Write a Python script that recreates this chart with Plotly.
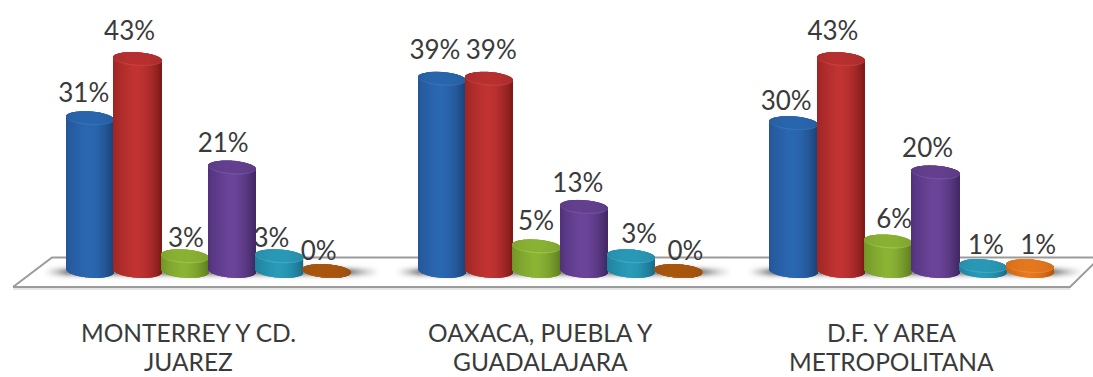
import numpy as np
import plotly.graph_objects as go

# Survey shares by region (percent), one list per response group
CATEGORY_LINES = [
    ["MONTERREY Y CD.", "JUAREZ"],
    ["OAXACA, PUEBLA Y", "GUADALAJARA"],
    ["D.F. Y AREA", "METROPOLITANA"],
]
SERIES_BLUE = [31, 39, 30]
SERIES_RED = [43, 39, 43]
SERIES_GREEN = [3, 5, 6]
SERIES_PURPLE = [21, 13, 20]
SERIES_TEAL = [3, 3, 1]
SERIES_ORANGE = [0, 0, 1]
ALL_SERIES = [SERIES_BLUE, SERIES_RED, SERIES_GREEN, SERIES_PURPLE, SERIES_TEAL, SERIES_ORANGE]

# Canvas scale: pixels per category and per percentage point
W, H, PLOT_H = 1093, 377, 300
PX_X = 351.7
PX_Y = 4.93
X0_PX = 208.5
Y0_PX = 271.0
BAR_W = 47.3 / PX_X
SLICES = 48
RY = 6.8 / PX_Y
TILT = 1.6 / PX_Y
X_RANGE = [-X0_PX / PX_X, (W - X0_PX) / PX_X]
Y_RANGE = [(Y0_PX - PLOT_H) / PX_Y, Y0_PX / PX_Y]


def px_x(p):
    return (p - X0_PX) / PX_X


def px_y(p):
    return (Y0_PX - p) / PX_Y


# Shading stops across a cylinder: dark edge, lit centre, dark edge
SHADES = [
    dict(edge_l="#245596", mid="#2b68b2", edge_r="#1b4478", cap="#2a66ae", rim="#3273bb"),
    dict(edge_l="#9c2523", mid="#c13433", edge_r="#7e1a18", cap="#b83030", rim="#c83e3c"),
    dict(edge_l="#6f9426", mid="#8cb435", edge_r="#5f7f20", cap="#8ab234", rim="#9ac244"),
    dict(edge_l="#4f3079", mid="#6c459a", edge_r="#412864", cap="#64408f", rim="#7450a4"),
    dict(edge_l="#1f7f9c", mid="#2a9bba", edge_r="#1a6d88", cap="#2a99b7", rim="#3aa9c5"),
    dict(edge_l="#c96416", mid="#e87a1f", edge_r="#b35510", cap="#e6781e", rim="#ee882e"),
]
ZERO_SHADE = dict(edge_l="#9c500e", mid="#a9570f", edge_r="#8f480c", cap="#a9570f", rim="#b05e14")

# Label offsets from each cylinder's top, in pixels
LABEL_DX = [[-6.5, -8, 1, -9, -8, -8], [-7, 2, -0.5, -6, 8, 7], [-7.5, -8, 6, -8, 3, 8]]
LABEL_DY = [[23, 26, 16, 21.5, 16, 18], [26, 26, 23, 21, 20, 18], [20, 26, 20, 22, 19, 19]]
CATEGORY_SHIFT = -20


def rgb(h):
    return np.array([int(h[i:i + 2], 16) for i in (1, 3, 5)], dtype=float)


def shade(t, s):
    # t runs from -1 (left edge) to 1 (right edge)
    l, m, r = rgb(s["edge_l"]), rgb(s["mid"]), rgb(s["edge_r"])
    if t < -0.1:
        c = l + (m - l) * min(1.0, (t + 1) / 0.9) ** 0.7
    else:
        c = m + (r - m) * ((t + 0.1) / 1.1) ** 2.0
    return "rgb(%d,%d,%d)" % tuple(c)


def mix(h, s_factor, t):
    c = rgb(h) * (1 - s_factor * abs(t) ** 2)
    return "rgb(%d,%d,%d)" % tuple(c)


def cylinder(fig, center, value, s):
    ts = (np.arange(SLICES) + 0.5) / SLICES * 2 - 1
    xs = center + ts * BAR_W / 2
    arc = np.sqrt(1 - ts ** 2)
    sw = BAR_W / SLICES * 1.25
    common = dict(x=xs, width=sw, xaxis="x2", yaxis="y2", hoverinfo="skip", showlegend=False,
                  marker_line_width=0)
    # Body, whose lower edge follows the front of the base ellipse
    low = -arc * RY - TILT * ts
    top = value - TILT * ts
    fig.add_trace(go.Bar(base=low, y=top - low, marker_color=[shade(t, s) for t in ts], **common))
    # Lighter rim round the lid
    fig.add_trace(go.Bar(base=top - arc * RY, y=2 * arc * RY,
                         marker_color=[mix(s["rim"], 0.12, t) for t in ts], **common))
    # Lid, a touch smaller and shifted up so the rim shows along the front
    inner = arc * RY * 0.88
    fig.add_trace(go.Bar(base=top - inner + 0.12, y=2 * inner,
                         marker_color=[mix(s["cap"], 0.08, t) for t in ts], **common))


fig = go.Figure()

# Soft floor shadow behind each group of cylinders
sx = np.arange(0, W + 3, 3.0)
sy = np.arange(260.0, 284.0, 1.0)
edges = [(X0_PX + g * PX_X - 3 * 47.3, X0_PX + g * PX_X + 3 * 47.3) for g in range(3)]
fade = np.zeros_like(sx)
for a, b in edges:
    fade = np.maximum(fade, np.clip(1 - (a - sx) / 24, 0, 1) * (sx < a) + (a <= sx) * (sx <= b)
                      + np.clip(1 - (sx - b) / 30, 0, 1) * (sx > b))
band = np.exp(-((sy - 271) / 4.2) ** 2)
fig.add_trace(go.Heatmap(x=px_x(sx), y=px_y(sy), z=np.outer(band, fade ** 1.4), zmin=0, zmax=1,
                         colorscale=[[0, "#ffffff"], [1, "#8c8c8c"]], zsmooth="best",
                         showscale=False, hoverinfo="skip"))

# Floor outline; the far right corner runs off the canvas
floor_x = [13, 52, 1100, 1070, 13]
floor_y = [287, 257.5, 257.5, 287, 287]
fig.add_trace(go.Scatter(x=[px_x(p) for p in floor_x], y=[px_y(p) for p in floor_y], mode="lines",
                         line=dict(color="#9b9b9b", width=2), hoverinfo="skip", showlegend=False))
fig.add_trace(go.Scatter(x=[px_x(13), px_x(1070)], y=[px_y(289), px_y(289)], mode="lines",
                         line=dict(color="#dedede", width=1.5), hoverinfo="skip", showlegend=False))

# Value labels sit in the lower layer, so a neighbouring cylinder can hide part of one
lab_x, lab_y, lab_t = [], [], []
for g in range(3):
    for i, series in enumerate(ALL_SERIES):
        center = g + (i - 2.5) * BAR_W
        lab_x.append(center + LABEL_DX[g][i] / PX_X)
        lab_y.append(series[g] + LABEL_DY[g][i] / PX_Y)
        lab_t.append(f"{series[g]}%")
fig.add_trace(go.Scatter(x=lab_x, y=lab_y, text=lab_t, mode="text", textposition="middle center",
                         textfont=dict(family="Lato", size=26, color="#3a3a3a"),
                         hoverinfo="skip", showlegend=False, cliponaxis=False))

# Cylinders on an overlaid pair of axes with the same scale
for g in range(3):
    for i, series in enumerate(ALL_SERIES):
        v = series[g]
        cylinder(fig, g + (i - 2.5) * BAR_W, v, ZERO_SHADE if v == 0 else SHADES[i])

annotations = []
for g, lines in enumerate(CATEGORY_LINES):
    for k, line in enumerate(lines):
        annotations.append(dict(x=g, xref="x", xshift=CATEGORY_SHIFT,
                                y=1 - (332 + k * 29.5) / PLOT_H, yref="paper", text=line,
                                showarrow=False, yanchor="middle", xanchor="center",
                                font=dict(family="Lato", size=24.5, color="#3a3a3a")))

fig.update_layout(
    width=W, height=H, margin=dict(l=0, r=0, t=0, b=H - PLOT_H),
    plot_bgcolor="white", paper_bgcolor="white", barmode="overlay", showlegend=False,
    annotations=annotations,
    xaxis=dict(range=X_RANGE, visible=False, fixedrange=True),
    yaxis=dict(range=Y_RANGE, visible=False, fixedrange=True),
    xaxis2=dict(range=X_RANGE, visible=False, overlaying="x", fixedrange=True),
    yaxis2=dict(range=Y_RANGE, visible=False, overlaying="y", fixedrange=True),
)

fig.write_html("out.html", config={"displayModeBar": False})
